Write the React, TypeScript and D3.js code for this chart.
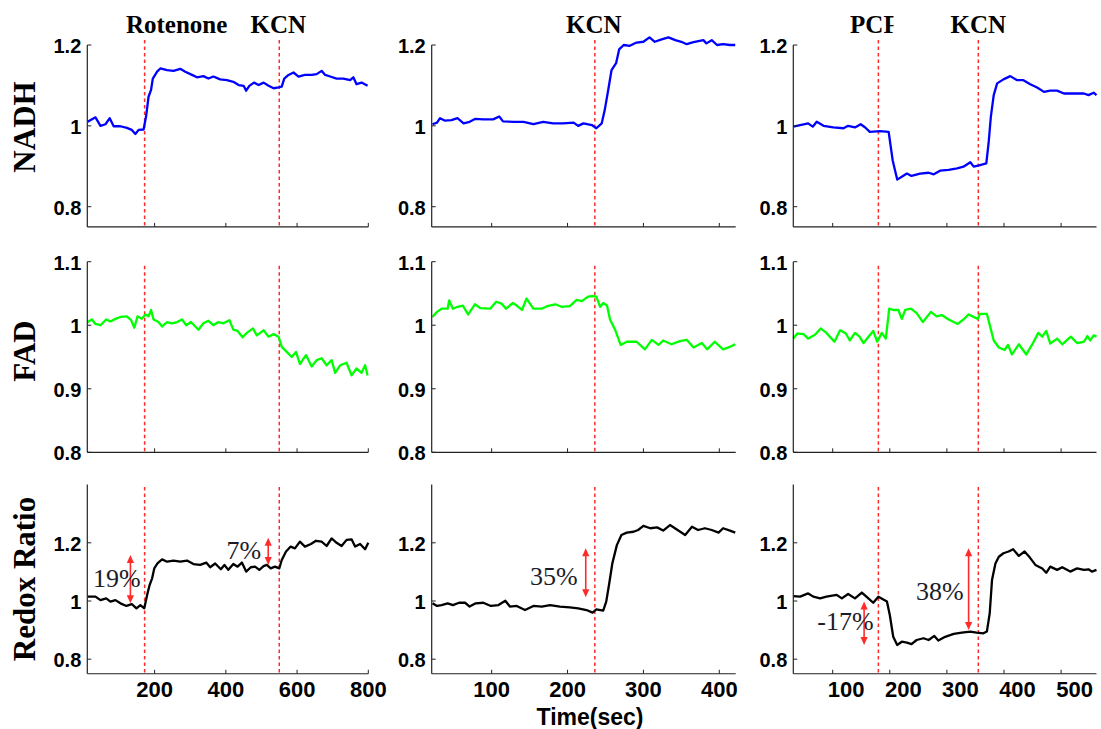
import React from "react";
import * as d3 from "d3";

type P = [number, number];

// ---------- data (time in sec, normalized value) ----------
const nadhRot: P[] = [[12,1.010],[34,1.021],[48,1.0],[62,1.004],[74,1.019],[85,0.999],[104,0.999],[122,0.995],[136,0.990],[146,0.980],[155,0.990],[169,0.991],[176,1.023],[183,1.072],[190,1.089],[195,1.117],[207,1.134],[216,1.142],[235,1.138],[253,1.136],[272,1.141],[286,1.134],[305,1.126],[319,1.120],[337,1.123],[351,1.117],[365,1.122],[384,1.115],[403,1.113],[421,1.109],[436,1.101],[450,1.099],[457,1.087],[466,1.099],[479,1.107],[492,1.101],[506,1.107],[520,1.099],[534,1.093],[548,1.095],[557,1.097],[564,1.117],[576,1.126],[590,1.132],[604,1.122],[622,1.126],[641,1.126],[655,1.128],[669,1.136],[679,1.126],[693,1.122],[711,1.117],[730,1.117],[749,1.113],[758,1.120],[767,1.103],[781,1.107],[798,1.099]];
const nadhKcn: P[] = [[22,1.004],[28,1.008],[32,1.019],[38,1.013],[47,1.014],[55,1.019],[63,1.006],[71,1.010],[78,1.017],[89,1.016],[102,1.016],[110,1.023],[115,1.011],[129,1.010],[142,1.010],[155,1.004],[168,1.010],[181,1.006],[194,1.006],[208,1.008],[214,1.0],[221,1.006],[232,1.002],[238,0.994],[245,1.006],[249,1.039],[254,1.093],[258,1.138],[264,1.155],[268,1.189],[274,1.200],[282,1.198],[291,1.206],[300,1.208],[308,1.219],[315,1.208],[324,1.214],[333,1.219],[342,1.212],[350,1.208],[357,1.202],[366,1.207],[379,1.212],[383,1.204],[390,1.212],[397,1.200],[405,1.202],[414,1.200],[421,1.200]];
const nadhPcf: P[] = [[31,0.998],[43,1.002],[57,1.006],[65,0.998],[72,1.010],[84,1.0],[101,0.996],[119,0.994],[127,1.0],[139,0.996],[149,1.004],[157,0.996],[165,0.985],[183,0.987],[198,0.985],[200,0.965],[205,0.915],[209,0.891],[213,0.867],[221,0.874],[230,0.882],[238,0.876],[253,0.882],[268,0.884],[277,0.880],[288,0.889],[303,0.891],[318,0.895],[329,0.899],[341,0.910],[347,0.899],[358,0.903],[369,0.907],[373,0.957],[377,1.023],[382,1.076],[388,1.105],[399,1.115],[411,1.123],[423,1.113],[434,1.113],[446,1.103],[458,1.095],[470,1.084],[481,1.087],[493,1.087],[505,1.080],[522,1.080],[540,1.080],[548,1.076],[557,1.082],[562,1.076]];

const fadRot: P[] = [[12,1.005],[24,1.009],[34,1.002],[48,1.0],[64,1.009],[76,1.006],[90,1.010],[104,1.013],[122,1.014],[134,1.008],[143,0.996],[152,1.014],[164,1.010],[174,1.017],[183,1.014],[190,1.024],[197,1.009],[211,1.005],[221,0.998],[235,1.005],[249,1.003],[263,1.005],[277,1.009],[289,1.0],[302,1.005],[323,0.993],[337,1.003],[351,1.007],[365,1.0],[379,1.005],[393,1.003],[410,1.008],[421,0.993],[433,0.991],[447,0.981],[459,0.988],[476,0.995],[487,0.984],[506,0.992],[520,0.982],[534,0.986],[548,0.982],[557,0.966],[571,0.958],[585,0.950],[597,0.958],[608,0.939],[625,0.953],[641,0.935],[655,0.945],[669,0.948],[683,0.937],[697,0.945],[707,0.925],[721,0.937],[739,0.941],[753,0.921],[767,0.932],[781,0.925],[791,0.937],[798,0.921]];
const fadKcn: P[] = [[22,1.013],[28,1.021],[34,1.026],[42,1.026],[44,1.039],[49,1.026],[55,1.029],[62,1.031],[69,1.017],[78,1.033],[85,1.027],[98,1.026],[106,1.037],[113,1.034],[119,1.026],[128,1.035],[133,1.031],[140,1.024],[146,1.042],[155,1.026],[166,1.026],[173,1.030],[184,1.033],[192,1.029],[203,1.030],[212,1.040],[219,1.038],[227,1.045],[234,1.046],[238,1.045],[243,1.029],[247,1.035],[252,1.031],[256,1.009],[263,0.992],[267,0.979],[270,0.969],[278,0.974],[291,0.974],[302,0.962],[311,0.977],[320,0.969],[326,0.976],[337,0.970],[348,0.975],[357,0.977],[366,0.965],[377,0.972],[384,0.962],[394,0.974],[405,0.962],[414,0.966],[421,0.970]];
const fadPcf: P[] = [[31,0.979],[38,0.987],[49,0.986],[57,0.979],[69,0.985],[79,0.995],[89,0.988],[103,0.974],[113,0.992],[123,0.987],[130,0.976],[139,0.988],[147,0.982],[154,0.972],[162,0.981],[171,0.991],[178,0.974],[186,0.988],[193,0.979],[199,1.026],[206,1.024],[215,1.024],[221,1.010],[227,1.024],[237,1.026],[247,1.019],[258,1.005],[272,1.021],[282,1.014],[291,1.016],[303,1.009],[319,1.002],[329,1.009],[338,1.017],[354,1.010],[358,1.018],[370,1.018],[376,0.997],[382,0.976],[391,0.965],[401,0.961],[407,0.969],[414,0.954],[426,0.970],[439,0.954],[449,0.969],[460,0.988],[467,0.982],[474,0.991],[481,0.971],[493,0.979],[502,0.970],[517,0.982],[528,0.972],[540,0.974],[546,0.983],[551,0.976],[557,0.984],[562,0.982]];

const redoxRot: P[] = [[12,1.015],[34,1.015],[48,1.003],[64,1.009],[76,0.998],[90,1.003],[104,0.992],[121,0.983],[136,0.989],[149,0.975],[160,0.986],[171,0.975],[179,1.021],[186,1.055],[193,1.078],[199,1.112],[208,1.129],[221,1.143],[235,1.135],[253,1.139],[272,1.135],[291,1.139],[309,1.127],[328,1.124],[345,1.132],[356,1.116],[370,1.129],[386,1.109],[396,1.124],[407,1.107],[421,1.127],[433,1.118],[445,1.132],[457,1.101],[470,1.116],[482,1.118],[494,1.107],[506,1.120],[515,1.124],[526,1.112],[538,1.118],[550,1.112],[557,1.141],[569,1.170],[582,1.187],[594,1.181],[608,1.204],[622,1.187],[639,1.196],[653,1.207],[669,1.204],[683,1.189],[697,1.215],[711,1.200],[725,1.189],[739,1.210],[753,1.212],[763,1.187],[777,1.196],[791,1.178],[800,1.200]];
const redoxKcn: P[] = [[22,0.992],[28,0.983],[34,0.986],[42,0.992],[49,0.986],[57,0.994],[65,0.994],[71,0.981],[79,0.992],[89,0.994],[99,0.983],[109,0.986],[118,1.001],[124,0.981],[133,0.983],[144,0.969],[155,0.983],[166,0.981],[177,0.986],[190,0.981],[203,0.978],[214,0.975],[225,0.969],[233,0.960],[238,0.971],[247,0.967],[251,0.998],[255,1.061],[259,1.129],[265,1.192],[271,1.227],[278,1.235],[287,1.238],[293,1.244],[300,1.258],[309,1.250],[318,1.253],[326,1.242],[335,1.261],[344,1.246],[355,1.227],[364,1.255],[372,1.244],[381,1.250],[390,1.244],[399,1.235],[405,1.250],[414,1.242],[421,1.235]];
const redoxPcf: P[] = [[31,1.017],[43,1.015],[57,1.026],[66,1.015],[78,1.009],[89,1.015],[107,1.021],[116,1.009],[127,1.024],[139,1.009],[151,1.029],[160,1.013],[171,0.994],[180,1.015],[195,0.998],[200,0.952],[206,0.877],[213,0.849],[221,0.860],[230,0.857],[238,0.852],[247,0.866],[259,0.872],[268,0.866],[278,0.880],[285,0.864],[297,0.877],[312,0.887],[326,0.891],[341,0.895],[352,0.891],[364,0.889],[370,0.895],[375,0.958],[379,1.072],[385,1.129],[391,1.152],[399,1.164],[408,1.170],[416,1.178],[426,1.155],[436,1.170],[445,1.150],[455,1.124],[467,1.112],[474,1.097],[481,1.118],[493,1.107],[502,1.116],[516,1.101],[528,1.112],[540,1.107],[548,1.109],[554,1.101],[562,1.107]];

const rowNames = ["NADH", "FAD", "Redox Ratio"];
const rowYDomains: [number, number][] = [[0.75, 1.2], [0.8, 1.1], [0.75, 1.4]];
const rowYTicks = [[0.8, 1, 1.2], [0.8, 0.9, 1, 1.1], [0.8, 1, 1.2]];
const rowColors = ["#0000ff", "#00ff00", "#000000"];
const series: P[][][] = [
  [nadhRot, nadhKcn, nadhPcf],
  [fadRot, fadKcn, fadPcf],
  [redoxRot, redoxKcn, redoxPcf],
];

const colXDomains: [number, number][] = [[11, 800], [21, 421.6], [31, 562]];
const colXTicks = [[200, 400, 600, 800], [100, 200, 300, 400], [100, 200, 300, 400, 500]];
const colEvents = [
  [{ t: 172, label: "Rotenone" }, { t: 550, label: "KCN" }],
  [{ t: 236, label: "KCN" }],
  [{ t: 180, label: "PCF" }, { t: 355, label: "KCN" }],
];

// redox-ratio change annotations (bottom row)
const arrowCols = [0, 0, 1, 2, 2];
const arrowTimes = [132, 519, 224, 155, 338];
const arrowFrom = [0.992, 1.124, 1.013, 0.849, 0.900];
const arrowTo = [1.158, 1.2175, 1.181, 0.998, 1.181];
const pctTexts = ["19%", "7%", "35%", "-17%", "38%"];
const pctTimes = [27, 402, 150.5, 73, 246];
const pctValues = [1.048, 1.146, 1.055, 0.900, 1.003];

// ---------- layout ----------
const colPx: [number, number][] = [[87.3, 368.3], [431.7, 735.7], [793.3, 1096.5]];
const rowPx: [number, number][] = [[226.9, 45], [452.3, 261.7], [673.75, 484.6]];
const dashTopOffset = [-5, 4, 2.5];
const colLabelDx = [0, 0, 13.5];
const eventLabelDx = [[32, -1], [-1], [-4, 0]];

const SANS = "'Liberation Sans', Arial, sans-serif";
const SERIF = "'Liberation Serif', 'Times New Roman', serif";
const RED = "#ff2a2a";

export default function App() {
  const panels: React.ReactNode[] = [];
  for (let r = 0; r < 3; r++) {
    const y = d3.scaleLinear().domain(rowYDomains[r]).range(rowPx[r]);
    for (let c = 0; c < 3; c++) {
      const x = d3.scaleLinear().domain(colXDomains[c]).range(colPx[c]);
      const line = d3.line<P>().x((d) => x(d[0])).y((d) => y(d[1])).curve(d3.curveLinear);
      const [x0, x1] = colPx[c];
      const [yb, yt] = rowPx[r];
      panels.push(
        <g key={`p${r}${c}`}>
          {colEvents[c].map((e, i) => (
            <line key={i} x1={x(e.t)} x2={x(e.t)} y1={yt + dashTopOffset[r]} y2={yb}
              stroke={RED} strokeWidth={1.5} strokeDasharray="3.5,3" />
          ))}
          <path d={line(series[r][c]) || ""} fill="none" stroke={rowColors[r]} strokeWidth={2.3} strokeLinejoin="round" />
          <line x1={x0} x2={x0} y1={yt} y2={yb} stroke="#222" strokeWidth={1.2} />
          <line x1={x0} x2={x1} y1={yb} y2={yb} stroke="#222" strokeWidth={1.2} />
          {rowYTicks[r].map((t) => (
            <g key={`y${t}`}>
              <line x1={x0} x2={x0 + 4} y1={y(t)} y2={y(t)} stroke="#222" strokeWidth={1} />
              <text x={x0 - 6} y={y(t) + 8} textAnchor="end" fontFamily={SANS} fontWeight="bold" fontSize={20} fill="#000">
                {String(t)}
              </text>
            </g>
          ))}
          {colXTicks[c].map((t) => (
            <g key={`x${t}`}>
              <line x1={x(t)} x2={x(t)} y1={yb} y2={yb - 4} stroke="#222" strokeWidth={1} />
              {r === 2 && (
                <text x={x(t) + colLabelDx[c]} y={yb + 23.5} textAnchor="middle" fontFamily={SANS} fontWeight="bold" fontSize={22} fill="#000">
                  {String(t)}
                </text>
              )}
            </g>
          ))}
        </g>
      );
    }
  }

  const topLabels: React.ReactNode[] = [];
  for (let c = 0; c < 3; c++) {
    const x = d3.scaleLinear().domain(colXDomains[c]).range(colPx[c]);
    colEvents[c].forEach((e, i) => {
      const clip = e.label === "PCF" ? "url(#pcfclip)" : undefined;
      topLabels.push(
        <text key={`e${c}${i}`} x={x(e.t) + eventLabelDx[c][i]} y={33} textAnchor="middle"
          fontFamily={SERIF} fontWeight="bold" fontSize={25} fill="#000" clipPath={clip}>
          {e.label}
        </text>
      );
    });
  }

  const yRedox = d3.scaleLinear().domain(rowYDomains[2]).range(rowPx[2]);
  const annots = arrowTimes.map((t, i) => {
    const x = d3.scaleLinear().domain(colXDomains[arrowCols[i]]).range(colPx[arrowCols[i]]);
    const ax = x(t);
    const ya = yRedox(arrowTo[i]);
    const yb = yRedox(arrowFrom[i]);
    const h = 8, w = 3.6;
    return (
      <g key={`a${i}`}>
        <line x1={ax} x2={ax} y1={ya + h - 1} y2={yb - h + 1} stroke={RED} strokeWidth={1.6} />
        <path d={`M${ax},${ya} L${ax - w},${ya + h} L${ax + w},${ya + h} Z`} fill={RED} />
        <path d={`M${ax},${yb} L${ax - w},${yb - h} L${ax + w},${yb - h} Z`} fill={RED} />
        <text x={x(pctTimes[i])} y={yRedox(pctValues[i])} fontFamily={SERIF} fontSize={26} fill="#1c1c28">
          {pctTexts[i]}
        </text>
      </g>
    );
  });

  return (
    <svg width={1101} height={729} style={{ position: "absolute", left: 0, top: 0, background: "#fff" }}>
      <defs>
        <clipPath id="pcfclip" clipPathUnits="userSpaceOnUse">
          <rect x={830} y={0} width={63.5} height={45} />
        </clipPath>
      </defs>
      <rect x={0} y={0} width={1101} height={729} fill="#fff" />
      {panels}
      {topLabels}
      {annots}
      {rowNames.map((n, r) => {
        const cy = [127, 351, 579][r];
        return (
          <text key={n} transform={`translate(35,${cy}) rotate(-90)`} textAnchor="middle"
            fontFamily={SERIF} fontWeight="bold" fontSize={31} fill="#000">
            {n}
          </text>
        );
      })}
      <text x={590} y={725} textAnchor="middle" fontFamily={SANS} fontWeight="bold" fontSize={23} fill="#000">
        Time(sec)
      </text>
    </svg>
  );
}
